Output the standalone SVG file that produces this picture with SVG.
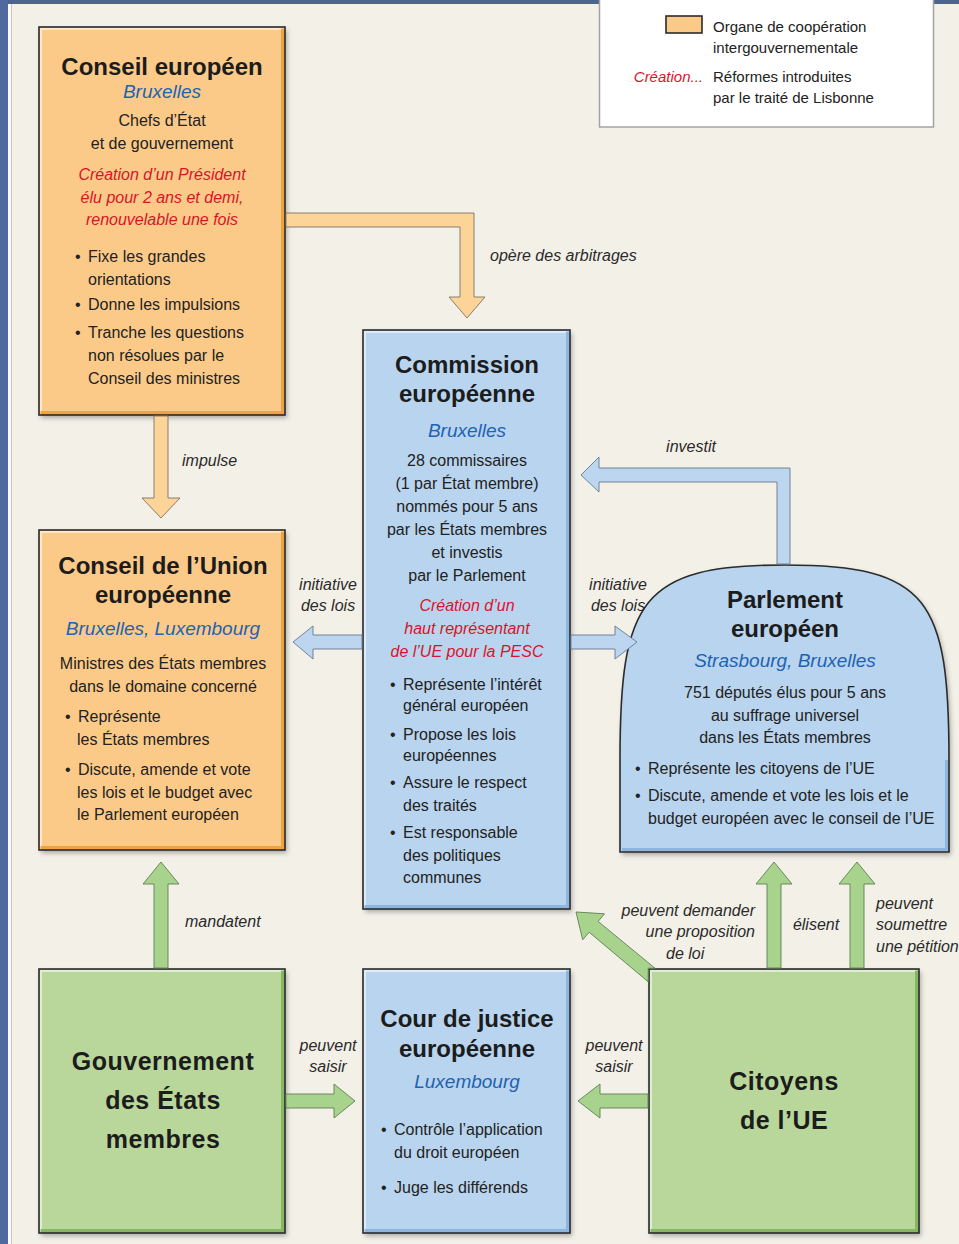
<svg xmlns="http://www.w3.org/2000/svg" width="959" height="1244" viewBox="0 0 959 1244">
<defs>
<filter id="sh" x="-10%" y="-10%" width="125%" height="125%">
<feDropShadow dx="2" dy="3" stdDeviation="2.5" flood-color="#000" flood-opacity="0.3"/>
</filter>
<style>
text{font-family:"Liberation Sans",Arial,sans-serif;}
.t{font-weight:bold;font-size:24px;fill:#1c1c1c;text-anchor:middle;}
.tg{font-weight:bold;font-size:25px;fill:#1c1c1c;text-anchor:middle;letter-spacing:0.5px;}
.c{font-style:italic;font-size:19px;fill:#1e63b2;text-anchor:middle;}
.b{font-size:16px;fill:#222;}
.bm{font-size:16px;fill:#222;text-anchor:middle;}
.r{font-style:italic;font-size:16px;fill:#d8142a;text-anchor:middle;}
.l{font-style:italic;font-size:16px;fill:#2a2a2a;}
.lm{font-style:italic;font-size:16px;fill:#2a2a2a;text-anchor:middle;}
.le{font-style:italic;font-size:16px;fill:#2a2a2a;text-anchor:end;}
.lg{font-size:15px;fill:#222;}
.bd{fill:none;stroke:#2b2b2b;stroke-width:1.6;}
.or{fill:#fcca88;}
.orE{fill:none;stroke:#f0a23e;stroke-width:4;}
.bl{fill:#b9d4ee;}
.blE{fill:none;stroke:#8cb5df;stroke-width:4;}
.gr{fill:#b9d79b;}
.grE{fill:none;stroke:#86b864;stroke-width:4;}
.hi{fill:none;stroke:#ffffff;stroke-opacity:0.55;stroke-width:2;}
.ao{fill:#fdd497;stroke:#7d7264;stroke-width:0.9;}
.ab{fill:#bdd6ef;stroke:#67798f;stroke-width:0.9;}
.ag{fill:#a8d38c;stroke:#5f7f52;stroke-width:0.9;}
</style>
</defs>

<!-- background and frame -->
<rect x="0" y="0" width="959" height="1244" fill="#f3f0e8"/>
<rect x="0" y="0" width="959" height="4" fill="#4d6491"/>
<rect x="0" y="0" width="8" height="1244" fill="#4f6a9c"/>
<rect x="8" y="4" width="3" height="1240" fill="#fbfaf6"/>
<line x1="11.5" y1="4" x2="11.5" y2="1244" stroke="#c9c6bf" stroke-width="1"/>

<!-- legend -->
<g id="legend">
<rect x="599.5" y="-2" width="334" height="129" fill="#ffffff" stroke="#a3a3a3" stroke-width="1.5"/>
<rect x="666" y="16" width="36" height="17" fill="#fcca88" stroke="#2b2b2b" stroke-width="1.6"/>
<text class="lg" x="713" y="32">Organe de coopération</text>
<text class="lg" x="713" y="53">intergouvernementale</text>
<text x="703" y="82" style="font-style:italic;font-size:15px;fill:#d8142a;text-anchor:end;">Création...</text>
<text class="lg" x="713" y="82">Réformes introduites</text>
<text class="lg" x="713" y="103">par le traité de Lisbonne</text>
</g>

<!-- nodes -->
<g id="conseil-europeen">
<rect class="or" x="39" y="27" width="246" height="388" filter="url(#sh)"/>
<polyline class="orE" points="283,29 283,413 41,413"/>
<polyline class="hi" points="41,411 41,29 281,29"/>
<rect class="bd" x="39" y="27" width="246" height="388"/>
<text class="t" x="162" y="75">Conseil européen</text>
<text class="c" x="162" y="98">Bruxelles</text>
<text class="bm" x="162" y="126">Chefs d’État</text>
<text class="bm" x="162" y="149">et de gouvernement</text>
<text class="r" x="162" y="180">Création d’un Président</text>
<text class="r" x="162" y="203">élu pour 2 ans et demi,</text>
<text class="r" x="162" y="225">renouvelable une fois</text>
<text class="b" x="75" y="262">•</text><text class="b" x="88" y="262">Fixe les grandes</text>
<text class="b" x="88" y="285">orientations</text>
<text class="b" x="75" y="310">•</text><text class="b" x="88" y="310">Donne les impulsions</text>
<text class="b" x="75" y="338">•</text><text class="b" x="88" y="338">Tranche les questions</text>
<text class="b" x="88" y="361">non résolues par le</text>
<text class="b" x="88" y="384">Conseil des ministres</text>
</g>

<g id="commission">
<rect class="bl" x="363" y="330" width="207" height="579" filter="url(#sh)"/>
<polyline class="blE" points="568,332 568,907 365,907"/>
<polyline class="hi" points="365,905 365,332 566,332"/>
<rect class="bd" x="363" y="330" width="207" height="579"/>
<text class="t" x="467" y="373">Commission</text>
<text class="t" x="467" y="402">européenne</text>
<text class="c" x="467" y="437">Bruxelles</text>
<text class="bm" x="467" y="466">28 commissaires</text>
<text class="bm" x="467" y="489">(1 par État membre)</text>
<text class="bm" x="467" y="512">nommés pour 5 ans</text>
<text class="bm" x="467" y="535">par les États membres</text>
<text class="bm" x="467" y="558">et investis</text>
<text class="bm" x="467" y="581">par le Parlement</text>
<text class="r" x="467" y="611">Création d’un</text>
<text class="r" x="467" y="634">haut représentant</text>
<text class="r" x="467" y="657">de l’UE pour la PESC</text>
<text class="b" x="390" y="690">•</text><text class="b" x="403" y="690">Représente l’intérêt</text>
<text class="b" x="403" y="711">général européen</text>
<text class="b" x="390" y="740">•</text><text class="b" x="403" y="740">Propose les lois</text>
<text class="b" x="403" y="761">européennes</text>
<text class="b" x="390" y="788">•</text><text class="b" x="403" y="788">Assure le respect</text>
<text class="b" x="403" y="811">des traités</text>
<text class="b" x="390" y="838">•</text><text class="b" x="403" y="838">Est responsable</text>
<text class="b" x="403" y="861">des politiques</text>
<text class="b" x="403" y="883">communes</text>
</g>

<g id="conseil-union">
<rect class="or" x="39" y="530" width="246" height="320" filter="url(#sh)"/>
<polyline class="orE" points="283,532 283,848 41,848"/>
<polyline class="hi" points="41,846 41,532 281,532"/>
<rect class="bd" x="39" y="530" width="246" height="320"/>
<text class="t" x="163" y="574">Conseil de l’Union</text>
<text class="t" x="163" y="603">européenne</text>
<text class="c" x="163" y="635">Bruxelles, Luxembourg</text>
<text class="bm" x="163" y="669">Ministres des États membres</text>
<text class="bm" x="163" y="692">dans le domaine concerné</text>
<text class="b" x="65" y="722">•</text><text class="b" x="78" y="722">Représente</text>
<text class="b" x="77" y="745">les États membres</text>
<text class="b" x="65" y="775">•</text><text class="b" x="78" y="775">Discute, amende et vote</text>
<text class="b" x="77" y="798">les lois et le budget avec</text>
<text class="b" x="77" y="820">le Parlement européen</text>
</g>

<g id="parlement">
<path class="bl" d="M620,852 L620,760 C620,600 641,565 785,565 C929,565 949,600 949,760 L949,852 Z" filter="url(#sh)"/>
<polyline class="blE" points="947,760 947,850 622,850"/>
<path class="bd" d="M620,852 L620,760 C620,600 641,565 785,565 C929,565 949,600 949,760 L949,852 Z"/>
<text class="t" x="785" y="608">Parlement</text>
<text class="t" x="785" y="637">européen</text>
<text class="c" x="785" y="667">Strasbourg, Bruxelles</text>
<text class="bm" x="785" y="698">751 députés élus pour 5 ans</text>
<text class="bm" x="785" y="721">au suffrage universel</text>
<text class="bm" x="785" y="743">dans les États membres</text>
<text class="b" x="635" y="774">•</text><text class="b" x="648" y="774">Représente les citoyens de l’UE</text>
<text class="b" x="635" y="801">•</text><text class="b" x="648" y="801">Discute, amende et vote les lois et le</text>
<text class="b" x="648" y="824">budget européen avec le conseil de l’UE</text>
</g>

<g id="gouvernements">
<rect class="gr" x="39" y="969" width="246" height="264" filter="url(#sh)"/>
<polyline class="grE" points="283,971 283,1231 41,1231"/>
<polyline class="hi" points="41,1229 41,971 281,971"/>
<rect class="bd" x="39" y="969" width="246" height="264"/>
<text class="tg" x="163" y="1070">Gouvernement</text>
<text class="tg" x="163" y="1109">des États</text>
<text class="tg" x="163" y="1148">membres</text>
</g>

<g id="cour-justice">
<rect class="bl" x="363" y="969" width="207" height="264" filter="url(#sh)"/>
<polyline class="blE" points="568,971 568,1231 365,1231"/>
<polyline class="hi" points="365,1229 365,971 566,971"/>
<rect class="bd" x="363" y="969" width="207" height="264"/>
<text class="t" x="467" y="1027">Cour de justice</text>
<text class="t" x="467" y="1057">européenne</text>
<text class="c" x="467" y="1088">Luxembourg</text>
<text class="b" x="381" y="1135">•</text><text class="b" x="394" y="1135">Contrôle l’application</text>
<text class="b" x="394" y="1158">du droit européen</text>
<text class="b" x="381" y="1193">•</text><text class="b" x="394" y="1193">Juge les différends</text>
</g>

<g id="citoyens">
<rect class="gr" x="649" y="969" width="270" height="264" filter="url(#sh)"/>
<polyline class="grE" points="917,971 917,1231 651,1231"/>
<polyline class="hi" points="651,1229 651,971 915,971"/>
<rect class="bd" x="649" y="969" width="270" height="264"/>
<text class="tg" x="784" y="1090">Citoyens</text>
<text class="tg" x="784" y="1129">de l’UE</text>
</g>

<!-- connectors -->
<g id="connectors">
<g id="e-arbitrages">
<polygon class="ao" points="286,213 474,213 474,297 485,297 467,318 449,297 460,297 460,227 286,227"/>
<text class="l" x="490" y="261">opère des arbitrages</text>
</g>
<g id="e-impulse">
<polygon class="ao" points="154,416 168,416 168,498 180,498 161,518 142,498 154,498"/>
<text class="l" x="182" y="466">impulse</text>
</g>
<g id="e-initiative-left">
<polygon class="ab" points="362,635 313,635 313,626 293,642 313,659 313,649 362,649"/>
<text class="lm" x="328" y="590">initiative</text>
<text class="lm" x="328" y="611">des lois</text>
</g>
<g id="e-initiative-right">
<polygon class="ab" points="571,635 615,635 615,626 637,642 615,659 615,649 571,649"/>
<text class="lm" x="618" y="590">initiative</text>
<text class="lm" x="618" y="611">des lois</text>
</g>
<g id="e-investit">
<polygon class="ab" points="790,564 790,468 599,468 599,457 581,475 599,492 599,482 777,482 777,564"/>
<text class="lm" x="691" y="452">investit</text>
</g>
<g id="e-mandatent">
<polygon class="ag" points="154,968 154,884 143,884 161,862 179,884 168,884 168,968"/>
<text class="l" x="185" y="927">mandatent</text>
</g>
<g id="e-saisir-left">
<polygon class="ag" points="286,1094 334,1094 334,1084 355,1101 334,1118 334,1108 286,1108"/>
<text class="lm" x="328" y="1051">peuvent</text>
<text class="lm" x="328" y="1072">saisir</text>
</g>
<g id="e-saisir-right">
<polygon class="ag" points="648,1094 600,1094 600,1084 578,1101 600,1118 600,1108 648,1108"/>
<text class="lm" x="614" y="1051">peuvent</text>
<text class="lm" x="614" y="1072">saisir</text>
</g>
<g id="e-demander">
<polygon class="ag" points="576,912 604.5,913.8 598.1,921.4 655,968.2 648.2,968.2 648.2,981.8 589.1,932.2 582.7,939.8"/>
<text class="le" x="755" y="916">peuvent demander</text>
<text class="le" x="755" y="937">une proposition</text>
<text class="l" x="666" y="959">de loi</text>
</g>
<g id="e-elisent">
<polygon class="ag" points="767,968 767,884 756,884 774,862 792,884 781,884 781,968"/>
<text class="lm" x="816" y="930">élisent</text>
</g>
<g id="e-petition">
<polygon class="ag" points="850,968 850,884 839,884 857,862 875,884 864,884 864,968"/>
<text class="l" x="876" y="909">peuvent</text>
<text class="l" x="876" y="930">soumettre</text>
<text class="l" x="876" y="952">une pétition</text>
</g>
</g>
</svg>
